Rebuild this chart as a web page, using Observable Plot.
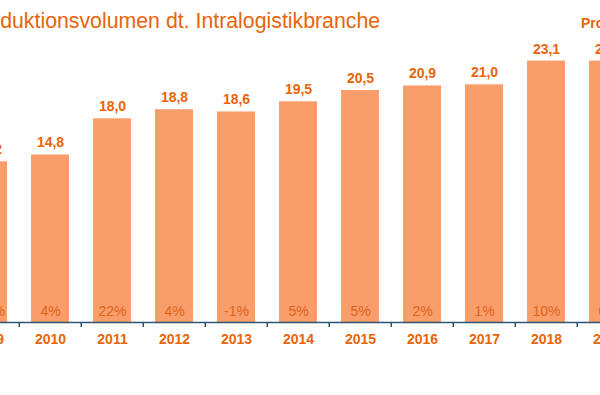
<!DOCTYPE html>
<html>
<head>
<meta charset="utf-8">
<script src="https://cdn.jsdelivr.net/npm/d3@7"></script>
<script src="https://cdn.jsdelivr.net/npm/@observablehq/plot@0.6"></script>
<style>
  html, body { margin: 0; padding: 0; background: #fff; }
  #wrap { position: relative; width: 600px; height: 395px; overflow: hidden; font-family: "Liberation Sans", Arial, sans-serif; }
  #title { position: absolute; top: 10px; left: -33px; font-size: 21.3px; line-height: 22px; color: #E8650A; white-space: nowrap; z-index: 2; }
  #note { position: absolute; top: 15px; left: 581px; font-size: 14px; line-height: 16px; font-weight: bold; color: #E8650A; white-space: nowrap; z-index: 2; }
  #chart { position: absolute; top: 0; left: 0; }
</style>
</head>
<body>
<div id="wrap">
  <div id="title">Produktionsvolumen dt. Intralogistikbranche</div>
  <div id="note">Prognose</div>
  <div id="chart"></div>
</div>
<script>
const years = ["2009","2010","2011","2012","2013","2014","2015","2016","2017","2018","2019"];
const volume = [14.2, 14.8, 18.0, 18.8, 18.6, 19.5, 20.5, 20.9, 21.0, 23.1, 23.1];
const growth = ["-27%","4%","22%","4%","-1%","5%","5%","2%","1%","10%","0%"];

const data = years.map((y, i) => ({year: y, value: volume[i], growth: growth[i]}));
const fmt = v => d3.format(".1f")(v).replace(".", ",");

const orange = "#E8650A";
const barColor = "#F99D6A";
const axisColor = "#2E5574";

const chart = Plot.plot({
  width: 600,
  height: 395,
  marginTop: 0,
  marginBottom: 73,
  marginLeft: 0,
  marginRight: 0,
  style: {fontFamily: "Liberation Sans, Arial, sans-serif", background: "transparent"},
  x: {domain: years, range: [-45.05, 642.45], paddingInner: 0.38, paddingOuter: 0.19, axis: null, label: null},
  y: {domain: [0, 28.45], axis: null},
  marks: [
    Plot.barY(data, {x: "year", y: "value", fill: barColor}),
    Plot.ruleY([0], {stroke: axisColor, strokeWidth: 1.5}),
    Plot.axisX({tickSize: 5, text: null, label: null, dx: -31.25, stroke: axisColor, strokeWidth: 1.5, strokeOpacity: 1}),
    Plot.text(data, {x: "year", y: "value", text: d => fmt(d.value), dy: -12, fontSize: 14, fontWeight: "bold", fill: orange}),
    Plot.text(data, {x: "year", y: () => 0, text: "growth", dy: -10.5, fontSize: 14, fill: "#DD6420"}),
    Plot.text(data, {x: "year", y: () => 0, text: "year", dy: 17.5, fontSize: 14, fontWeight: "bold", fill: orange})
  ]
});
document.getElementById("chart").appendChild(chart);
</script>
</body>
</html>
